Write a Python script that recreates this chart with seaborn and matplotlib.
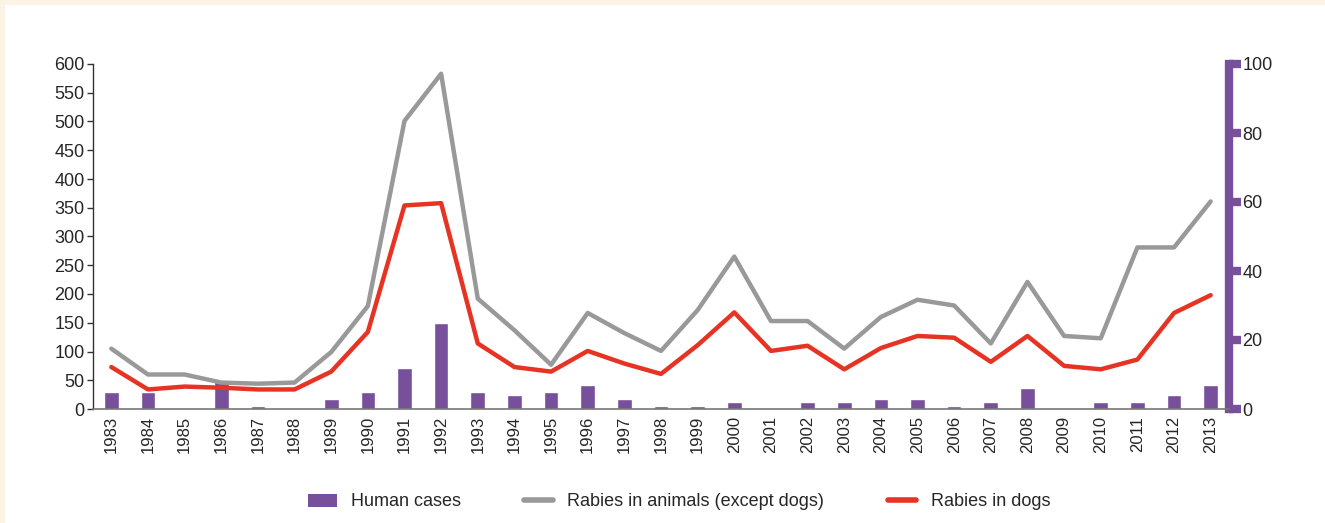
import matplotlib
matplotlib.use("Agg")
import matplotlib.pyplot as plt
from matplotlib.patches import Rectangle, Patch
from matplotlib.lines import Line2D
import pandas as pd
import seaborn as sns

years = [str(y) for y in range(1983, 2014)]
human_cases = [5, 5, 0, 8, 1, 0, 3, 5, 12, 25, 5, 4, 5, 7, 3, 1, 1, 2, 0, 2,
               2, 3, 3, 1, 2, 6, 0, 2, 2, 4, 7]
animals_except_dogs = [105, 60, 60, 46, 44, 46, 99, 179, 501, 583, 192, 137, 77,
                       167, 132, 101, 172, 265, 153, 153, 105, 160, 190, 180,
                       114, 221, 127, 123, 281, 281, 361]
dogs = [73, 34, 39, 37, 34, 34, 65, 134, 354, 358, 114, 73, 65, 101, 79, 61,
        111, 168, 101, 110, 69, 106, 127, 124, 82, 127, 75, 69, 86, 167, 198]

purple = "#774f9b"
grey = "#999999"
red = "#e63323"

sns.set_style("white")
plt.rcParams["font.family"] = ["Liberation Sans", "DejaVu Sans"]

df = pd.DataFrame({"year": years, "pos": range(len(years)), "human": human_cases,
                   "animals": animals_except_dogs, "dogs": dogs})

fig = plt.figure(figsize=(13.25, 5.23), dpi=100)
fig.patch.set_facecolor("#fbf3e4")
# white card with a thin beige border on the top and left
fig.patches.append(Rectangle((5 / 1325, 0), 1, 1 - 5 / 523, transform=fig.transFigure,
                             facecolor="white", edgecolor="none", zorder=-5))

ax = fig.add_axes([93 / 1325, 114 / 523, 1136 / 1325, 345 / 523])
ax2 = ax.twinx()

# human cases on the right axis
sns.barplot(data=df, x="pos", y="human", color=purple, width=0.4, ax=ax2,
            native_scale=True, saturation=1)

# rabies lines on the left axis
sns.lineplot(data=df, x="pos", y="animals", color=grey, lw=3.2, ax=ax)
sns.lineplot(data=df, x="pos", y="dogs", color=red, lw=3.2, ax=ax)

ax.set_zorder(ax2.get_zorder() + 1)
ax.patch.set_visible(False)

ax.set_xlim(-0.5, len(years) - 0.5)
ax.set_ylim(0, 600)
ax2.set_ylim(0, 100)
ax.set_yticks(range(0, 601, 50))
ax2.set_yticks(range(0, 101, 20))

ax.set_xticks(range(len(years)))
ax.set_xticklabels(years, rotation=90, fontsize=12)
ax.set_xticks([i - 0.5 for i in range(len(years) + 1)], minor=True)
ax.tick_params(axis="x", which="major", length=0, pad=5)
ax.tick_params(axis="x", which="minor", length=5, width=1, color="#555555", direction="out")
ax.tick_params(axis="y", labelsize=13, length=4, width=1, color="#333333", direction="out",
               left=True, pad=2)
ax2.tick_params(axis="y", labelsize=13, length=8.5, width=6, color=purple, direction="out",
                right=True, pad=1)
ax2.tick_params(axis="x", bottom=False, labelbottom=False)

for name in ["top", "right"]:
    ax.spines[name].set_visible(False)
for name in ["top", "left", "bottom"]:
    ax2.spines[name].set_visible(False)
ax.spines["left"].set_color("#333333")
ax.spines["left"].set_linewidth(1)
ax.spines["bottom"].set_color("#777777")
ax.spines["bottom"].set_linewidth(1.2)
ax2.spines["right"].set_color(purple)
ax2.spines["right"].set_linewidth(6)
ax2.spines["right"].set_capstyle("projecting")

ax.set_xlabel("")
ax.set_ylabel("")
ax2.set_xlabel("")
ax2.set_ylabel("")

handles = [Patch(facecolor=purple, edgecolor="none"),
           Line2D([0], [0], color=grey, lw=4),
           Line2D([0], [0], color=red, lw=4)]
labels = ["Human cases", "Rabies in animals (except dogs)", "Rabies in dogs"]
fig.legend(handles, labels, loc="center", bbox_to_anchor=(679 / 1325, 21 / 523),
           ncol=3, frameon=False, fontsize=13, handlelength=1.6, columnspacing=3.5,
           handletextpad=0.8)

fig.savefig("out.png", dpi=100, facecolor=fig.get_facecolor())
